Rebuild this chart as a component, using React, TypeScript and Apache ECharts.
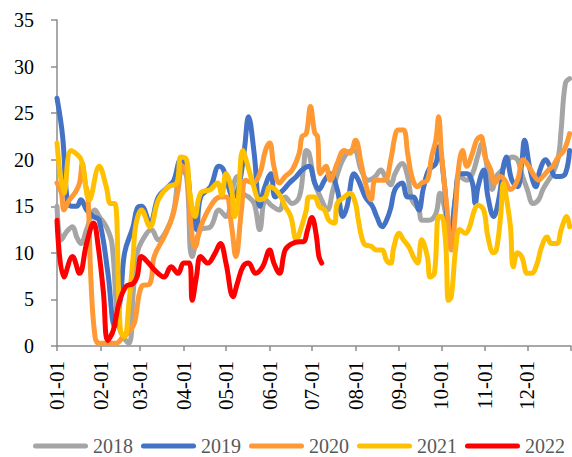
import React, { useEffect, useRef } from "react";
import * as echarts from "echarts";

// month lengths used to build day-of-year category labels (MM-DD)
const monthLengths = [31, 28, 31, 30, 31, 30, 31, 31, 30, 31, 30, 31];
const categories: string[] = [];
monthLengths.forEach((len, m) => {
  for (let d = 1; d <= len; d++) {
    categories.push(String(m + 1).padStart(2, "0") + "-" + String(d).padStart(2, "0"));
  }
});
// closing point of the axis (start of the following year)
categories.push("end");
const LAST = categories.length - 1;

const seriesNames = ["2018", "2019", "2020", "2021", "2022"];
const seriesColors = ["#A5A5A5", "#4472C4", "#FF9933", "#FFC000", "#FF0000"];

// day index (0 = 01-01) and value pairs
const days2018 = [0,3,7,11,14,17,21,27,30,35,39,44,51,54,57,62,67,72,79,83,88,92,96,102,109,115,120,125,128,132,136,140,144,148,153,158,162,167,172,175,177,179,183,187,192,196,201,206,211,216,221,226,230,233,237,240,245,249,252,257,259,264,269,272,276,279,283,286,291,295,299,302,305,309,312,316,319,323,327,330,334,338,342,345,349,352,356,358,361,364];
const vals2018 = [15.0,11.4,12.3,12.8,11.7,11.0,12.5,14.6,13.9,12.8,11.0,2.1,0.3,5.5,10.0,11.7,12.5,11.4,12.8,14.6,18.9,18.2,9.6,12.5,12.8,14.6,13.9,17.1,18.2,16.4,16.0,15.3,12.5,15.7,15.0,14.6,16.0,15.3,16.0,19.0,21.0,20.7,17.5,16.0,14.6,16.8,19.3,20.7,21.0,18.9,17.8,18.2,18.9,18.2,17.3,18.5,19.6,18.2,15.7,14.6,13.5,13.5,14.2,16.4,14.2,11.4,16.0,18.2,17.8,18.5,20.5,21.8,19.6,16.8,18.2,18.9,19.6,20.3,20.0,18.5,16.8,15.3,15.7,16.8,17.8,18.5,20.3,23.2,28.2,28.7];

const days2019 = [0,4,7,10,14,17,21,26,30,36,41,45,48,54,57,60,66,72,79,83,88,92,95,99,102,109,115,118,121,125,129,133,136,140,144,147,152,155,161,165,170,174,179,183,186,190,194,199,203,206,211,214,219,224,227,231,234,237,240,245,249,253,257,260,264,269,271,275,279,283,286,291,295,297,299,303,306,310,314,317,319,323,327,330,332,336,340,343,347,350,354,357,361,364];
const vals2019 = [26.6,22.5,16.0,15.0,15.0,15.7,14.6,13.9,13.5,8.0,2.1,5.0,10.0,12.8,14.8,15.0,13.2,16.0,17.1,17.8,20.0,19.3,15.3,12.5,16.0,17.1,19.3,19.0,17.5,16.0,17.1,21.0,24.6,20.7,15.0,16.8,18.5,16.0,16.8,17.5,18.2,18.9,19.3,17.5,16.8,17.8,18.5,16.8,13.9,15.0,18.5,17.8,16.0,15.0,13.9,12.8,13.5,14.8,16.8,17.5,16.0,16.0,14.6,16.8,18.9,19.6,21.4,17.5,11.0,16.0,18.5,18.5,17.5,15.3,17.1,18.9,16.0,13.9,16.0,19.3,20.3,17.8,17.1,19.6,22.1,18.9,17.1,18.9,20.0,19.3,18.2,18.2,18.5,21.0];

const days2020 = [0,3,5,8,13,16,18,20,22,24,27,30,36,42,47,51,55,60,66,69,76,82,86,89,92,95,98,102,109,116,120,124,127,131,134,139,144,148,151,154,158,162,167,172,174,177,180,183,185,187,191,194,199,204,208,212,216,219,223,226,230,233,237,240,242,246,249,252,256,259,263,266,269,271,273,277,280,283,285,288,291,295,298,301,304,308,311,315,318,322,327,331,335,338,342,345,349,352,356,360,364];
const vals2020 = [17.5,16.5,14.6,15.5,16.5,17.5,19.6,17.5,16.0,7.4,1.0,0.3,0.3,0.3,1.0,1.5,2.5,6.4,6.7,9.6,11.7,13.9,16.8,19.3,18.9,13.2,10.6,12.8,15.0,16.0,16.0,12.8,9.6,14.6,17.8,17.5,18.5,21.0,21.8,19.3,17.5,18.2,18.9,20.7,22.5,22.8,25.7,22.9,22.5,18.5,19.3,17.8,19.6,21.0,20.7,22.1,19.6,17.5,15.7,17.8,17.8,17.8,20.0,22.5,23.2,23.2,20.7,18.2,17.1,17.5,17.8,20.3,22.1,24.6,20.7,14.6,10.3,14.6,18.9,21.0,19.3,20.7,22.1,22.5,20.3,18.9,17.5,18.2,17.8,16.8,17.8,20.0,19.3,18.5,17.8,18.2,18.9,19.3,20.3,21.0,22.8];

const days2021 = [0,5,10,16,18,23,30,35,38,41,45,48,51,54,56,60,66,72,79,85,88,92,94,98,102,109,114,117,120,124,126,128,132,135,139,144,148,151,155,159,162,166,170,173,177,179,183,186,190,193,197,199,204,208,212,214,218,223,227,231,234,237,239,243,246,250,253,256,259,263,265,268,271,273,276,278,280,283,286,290,293,296,299,303,306,310,312,315,317,319,322,324,327,330,334,337,341,344,348,351,355,358,362,364];
const vals2021 = [21.8,16.4,21.0,20.3,19.6,15.7,19.3,17.1,15.3,15.3,1.7,1.0,4.5,9.5,13.0,14.6,12.8,15.7,17.1,17.5,20.3,20.0,16.8,13.9,16.4,16.8,17.5,16.2,18.5,16.8,13.9,14.6,21.0,19.6,17.5,15.7,16.0,17.1,16.8,16.0,15.0,13.9,11.4,12.5,14.6,16.0,16.0,15.0,14.6,13.5,13.2,15.3,16.0,16.4,15.3,13.5,11.0,10.7,10.3,10.3,9.2,8.9,10.5,12.1,11.4,10.6,9.6,8.9,11.4,9.6,7.4,7.8,13.9,13.9,11.0,4.9,5.3,10.3,12.5,12.1,12.8,14.4,15.1,14.6,11.7,10.0,10.3,13.9,17.5,16.0,12.8,8.5,10.0,9.6,7.8,7.8,8.9,10.6,11.7,11.0,11.0,12.5,13.9,12.8];

const days2022 = [0,5,11,16,21,26,29,33,36,40,44,49,54,57,60,65,69,76,81,86,90,94,96,99,102,107,112,116,120,125,128,132,136,141,146,151,154,158,162,167,172,175,178,181,184,186,188];
const vals2022 = [13.5,7.4,9.6,7.8,11.0,13.2,11.0,5.7,0.6,1.7,4.6,6.4,6.7,7.5,9.6,8.9,8.2,7.4,8.5,7.8,8.9,8.9,4.9,7.4,9.6,8.9,9.9,11.0,8.9,5.3,6.7,8.5,8.9,7.8,8.5,10.3,8.9,7.8,10.3,11.0,11.2,11.2,12.5,13.8,12.0,9.6,8.9];

const allDays = [days2018, days2019, days2020, days2021, days2022];
const allVals = [vals2018, vals2019, vals2020, vals2021, vals2022];

const yMin = 0;
const yMax = 35;
const yInterval = 5;

const FONT = "'Liberation Serif', 'Times New Roman', serif";
const AXIS_GRAY = "#8C8C8C";

export default function App() {
  const ref = useRef<HTMLDivElement>(null);
  useEffect(() => {
    if (!ref.current) return;
    const chart = echarts.init(ref.current, undefined, { renderer: "svg" });
    const isLabel = (i: number, v: string) => i < LAST && v.endsWith("-01");
    const isTick = (i: number, v: string) => i === LAST || v.endsWith("-01");
    chart.setOption({
      animation: false,
      grid: { left: 57, right: 1, top: 20, bottom: 111, containLabel: false },
      legend: {
        data: seriesNames,
        left: 33,
        top: 436,
        padding: 0,
        itemWidth: 55,
        itemHeight: 5,
        itemGap: 8,
        icon: "path://M2.5,0 H52.5 A2.5,2.5 0 0 1 52.5,5 H2.5 A2.5,2.5 0 0 1 2.5,0 Z",
        textStyle: { fontFamily: FONT, fontSize: 20, color: "#595959" },
      },
      xAxis: {
        type: "category",
        data: categories,
        boundaryGap: false,
        axisLine: { lineStyle: { color: AXIS_GRAY, width: 1.5 } },
        axisTick: { interval: isTick, length: 5, lineStyle: { color: AXIS_GRAY, width: 1.5 } },
        axisLabel: {
          interval: isLabel,
          rotate: 90,
          margin: 15,
          fontFamily: FONT,
          fontSize: 21,
          color: "#000",
        },
        splitLine: { show: false },
      },
      yAxis: {
        type: "value",
        min: yMin,
        max: yMax,
        interval: yInterval,
        axisLine: { show: true, lineStyle: { color: AXIS_GRAY, width: 1.5 } },
        axisTick: { show: true, length: 6, lineStyle: { color: AXIS_GRAY, width: 1.5 } },
        axisLabel: { fontFamily: FONT, fontSize: 20, color: "#000", margin: 23 },
        splitLine: { show: false },
      },
      series: seriesNames.map((name, k) => ({
        name,
        type: "line",
        showSymbol: false,
        smooth: 0.4,
        color: seriesColors[k],
        lineStyle: { width: 5, color: seriesColors[k], cap: "round", join: "round" },
        data: allDays[k].map((d, i) => [d, allVals[k][i]]),
      })),
    });
    return () => chart.dispose();
  }, []);
  return (
    <div
      ref={ref}
      style={{ position: "fixed", left: 0, top: 0, width: 572, height: 457, background: "#fff" }}
    />
  );
}
